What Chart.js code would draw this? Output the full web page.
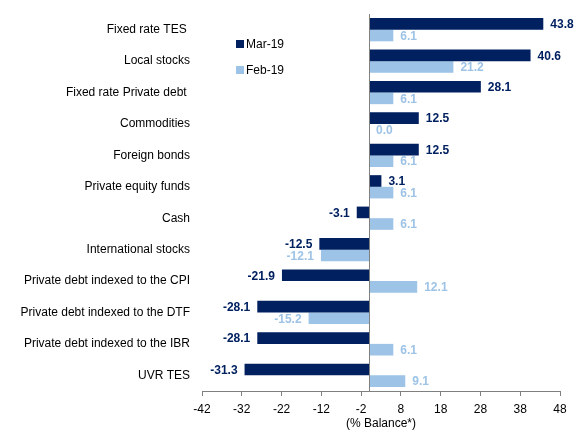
<!DOCTYPE html>
<html><head><meta charset="utf-8">
<script src="https://cdn.jsdelivr.net/npm/chart.js@4/dist/chart.umd.min.js"></script>
<style>html,body{margin:0;padding:0;background:#fff}#wrap{width:576px;height:430px;position:relative}</style>
</head><body><div id="wrap"><canvas id="c" width="576" height="430"></canvas></div>
<script>
const categories = ["Fixed rate TES ","Local stocks","Fixed rate Private debt ","Commodities","Foreign bonds","Private equity funds","Cash","International stocks","Private debt indexed to the CPI","Private debt indexed to the DTF","Private debt indexed to the IBR","UVR TES"];
const mar19 = [43.8,40.6,28.1,12.5,12.5,3.1,-3.1,-12.5,-21.9,-28.1,-28.1,-31.3];
const feb19 = [6.1,21.2,6.1,0.0,6.1,6.1,6.1,-12.1,12.1,-15.2,6.1,9.1];
const seriesNames = ["Mar-19","Feb-19"];
const xTicks = [-42,-32,-22,-12,-2,8,18,28,38,48];
const NAVY = "#002060", LIGHT = "#9DC3E6";
const FONT = "'Liberation Sans', Arial, sans-serif";

const labelPlugin = {
  id: 'valLabels',
  afterDatasetsDraw(chart) {
    const ctx = chart.ctx;
    const xs = chart.scales.x;
    ctx.save();
    chart.data.datasets.forEach((ds, di) => {
      const meta = chart.getDatasetMeta(di);
      meta.data.forEach((el, i) => {
        const v = ds.data[i];
        ctx.font = "bold 12px " + FONT;
        ctx.fillStyle = ds.backgroundColor;
        ctx.textBaseline = 'middle';
        if (v >= 0) { ctx.textAlign = 'left'; ctx.fillText(v.toFixed(1), el.x + 7, el.y + 1); }
        else { ctx.textAlign = 'right'; ctx.fillText(v.toFixed(1), el.x - 7, el.y + 1); }
      });
    });
    const x0 = Math.round(xs.getPixelForValue(0)) + 0.5;
    ctx.strokeStyle = '#808080'; ctx.lineWidth = 1;
    ctx.beginPath(); ctx.moveTo(x0, chart.chartArea.top); ctx.lineTo(x0, chart.chartArea.bottom); ctx.stroke();
    const lx = 236, ly = [44, 70];
    chart.data.datasets.forEach((ds, di) => {
      ctx.fillStyle = ds.backgroundColor;
      ctx.fillRect(lx, ly[di] - 4, 8, 8);
      ctx.fillStyle = '#000';
      ctx.font = "12px " + FONT;
      ctx.textAlign = 'left'; ctx.textBaseline = 'middle';
      ctx.fillText(ds.label, lx + 10, ly[di] + 1);
    });
    ctx.restore();
  }
};

new Chart(document.getElementById('c'), {
  type: 'bar',
  data: {
    labels: categories,
    datasets: [
      { label: seriesNames[0], data: mar19, backgroundColor: NAVY, borderWidth: 0 },
      { label: seriesNames[1], data: feb19, backgroundColor: LIGHT, borderWidth: 0 }
    ]
  },
  options: {
    indexAxis: 'y',
    responsive: false,
    animation: false,
    devicePixelRatio: 1,
    layout: { padding: { top: 14, right: 16, left: 0, bottom: 0 } },
    datasets: { bar: { categoryPercentage: 0.74, barPercentage: 1.0 } },
    plugins: { legend: { display: false }, tooltip: { enabled: false } },
    scales: {
      x: {
        min: -42, max: 48,
        afterBuildTicks(s) { s.ticks = xTicks.map(v => ({ value: v })); },
        grid: { drawOnChartArea: false, drawTicks: true, tickLength: 5, color: '#808080' },
        border: { display: true, color: '#808080' },
        ticks: { color: '#000', font: { family: FONT, size: 12 }, padding: 6, maxRotation: 0, autoSkip: false },
        title: { display: true, text: '(% Balance*)', color: '#000', font: { family: FONT, size: 12, lineHeight: 1.0 }, padding: { top: 2, bottom: 0 } },
        afterFit(s) { s.height = 39; }
      },
      y: {
        grid: { display: false, drawTicks: false },
        border: { display: false },
        ticks: { color: '#000', font: { family: FONT, size: 12 }, padding: 12, autoSkip: false },
        afterFit(s) { s.width = 202; s.paddingTop = 0; s.paddingBottom = 0; }
      }
    }
  },
  plugins: [labelPlugin]
});
</script></body></html>
